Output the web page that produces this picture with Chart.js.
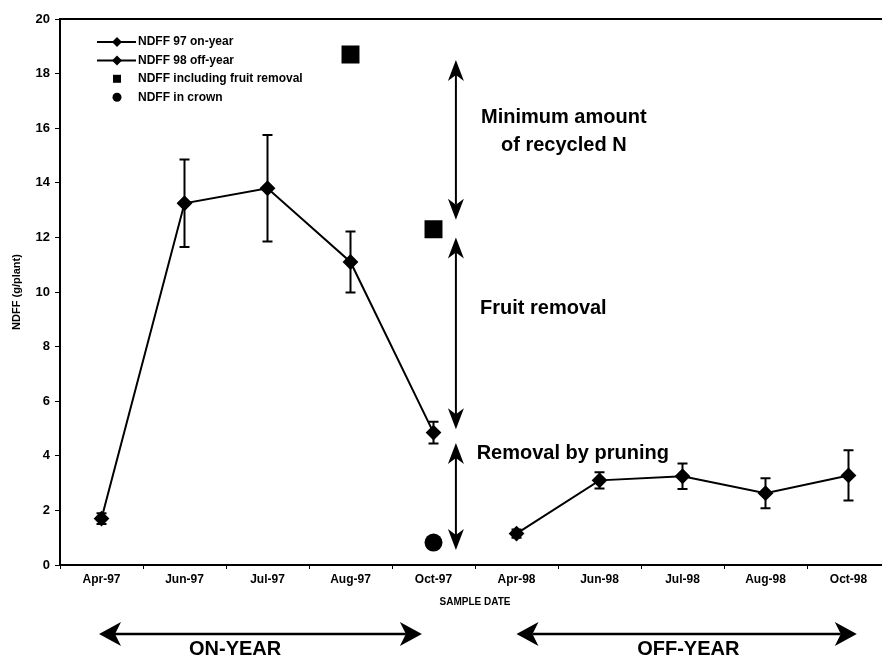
<!DOCTYPE html>
<html>
<head>
<meta charset="utf-8">
<script src="https://cdn.jsdelivr.net/npm/chart.js@4.4.1/dist/chart.umd.min.js"></script>
<style>
  html, body { margin: 0; padding: 0; background: #fff; overflow: hidden; width: 882px; height: 660px; }
  #wrap { width: 882px; height: 660px; overflow: hidden; position: relative; }
  #c { position: absolute; left: 0; top: 0; }
</style>
</head>
<body>
<div id="wrap"><canvas id="c" width="892" height="660"></canvas></div>
<script>
// Sample dates (x categories)
const categories = ['Apr-97', 'Jun-97', 'Jul-97', 'Aug-97', 'Oct-97', 'Apr-98', 'Jun-98', 'Jul-98', 'Aug-98', 'Oct-98'];

// NDFF (g/plant) per sampling date, with standard errors
const onYear97    = [1.7, 13.25, 13.8, 11.1, 4.85, null, null, null, null, null];
const onYear97Err = [0.2, 1.6, 1.95, 1.12, 0.4, null, null, null, null, null];
const offYear98    = [null, null, null, null, null, 1.15, 3.1, 3.25, 2.63, 3.28];
const offYear98Err = [null, null, null, null, null, 0.15, 0.3, 0.47, 0.55, 0.92];
const withFruitRemoval = [null, null, null, 18.7, 12.3, null, null, null, null, null];
const inCrown          = [null, null, null, null, 0.82, null, null, null, null, null];

// Segments of the N balance at Oct-97 (from, to) in g/plant
const balanceSegments = [[18.5, 12.65], [12.0, 4.97], [4.47, 0.55]];
const balanceLabels = ['Minimum amount', 'of recycled N', 'Fruit removal', 'Removal by pruning'];
const periodLabels = ['ON-YEAR', 'OFF-YEAR'];

const FONT = '"Liberation Sans", Arial, Helvetica, sans-serif';

function arrowHead(ctx, tx, ty, dx, dy, len, half, notch) {
  const bx = tx - dx * len, by = ty - dy * len;
  const px = -dy, py = dx;
  ctx.beginPath();
  ctx.moveTo(tx, ty);
  ctx.lineTo(bx + px * half, by + py * half);
  ctx.lineTo(bx + dx * notch, by + dy * notch);
  ctx.lineTo(bx - px * half, by - py * half);
  ctx.closePath();
  ctx.fill();
}

function doubleArrow(ctx, x1, y1, x2, y2, len, half, notch, lw) {
  const L = Math.hypot(x2 - x1, y2 - y1);
  const dx = (x2 - x1) / L, dy = (y2 - y1) / L;
  ctx.lineWidth = lw;
  ctx.beginPath();
  ctx.moveTo(x1 + dx * (len - notch), y1 + dy * (len - notch));
  ctx.lineTo(x2 - dx * (len - notch), y2 - dy * (len - notch));
  ctx.stroke();
  arrowHead(ctx, x2, y2, dx, dy, len, half, notch);
  arrowHead(ctx, x1, y1, -dx, -dy, len, half, notch);
}

// Vertical error bars with caps
const errorBars = {
  id: 'errorBars',
  beforeDatasetsDraw(chart) {
    const { ctx, scales: { y } } = chart;
    ctx.save();
    ctx.strokeStyle = '#000';
    ctx.lineWidth = 2;
    chart.data.datasets.forEach((ds, di) => {
      if (!ds.errors) return;
      const meta = chart.getDatasetMeta(di);
      ds.data.forEach((v, i) => {
        const e = ds.errors[i];
        if (v == null || e == null) return;
        const px = meta.data[i].x;
        const top = y.getPixelForValue(v + e);
        const bot = y.getPixelForValue(v - e);
        ctx.beginPath();
        ctx.moveTo(px, top); ctx.lineTo(px, bot);
        ctx.moveTo(px - 5, top); ctx.lineTo(px + 5, top);
        ctx.moveTo(px - 5, bot); ctx.lineTo(px + 5, bot);
        ctx.stroke();
      });
    });
    ctx.restore();
  }
};

// Frame top, balance arrows, period arrows, legend
const notes = {
  id: 'notes',
  afterDraw(chart, args, opts) {
    const { ctx, chartArea, scales: { x, y } } = chart;
    ctx.save();
    ctx.strokeStyle = '#000';
    ctx.fillStyle = '#000';

    // top frame line
    ctx.lineWidth = 2;
    ctx.beginPath();
    ctx.moveTo(chartArea.left, chartArea.top);
    ctx.lineTo(chartArea.right, chartArea.top);
    ctx.stroke();

    // balance arrows at Oct-97
    const ax = x.getPixelForValue(opts.balanceX);
    balanceSegments.forEach(([a, b]) => {
      doubleArrow(ctx, ax, y.getPixelForValue(a), ax, y.getPixelForValue(b), 21, 8, 6, 2);
    });

    ctx.font = 'bold 20px ' + FONT;
    ctx.textBaseline = 'middle';
    ctx.textAlign = 'center';
    ctx.fillText(balanceLabels[0], x.getPixelForValue(5.57), y.getPixelForValue(16.4));
    ctx.fillText(balanceLabels[1], x.getPixelForValue(5.57), y.getPixelForValue(15.38));
    ctx.textAlign = 'left';
    ctx.fillText(balanceLabels[2], x.getPixelForValue(4.56), y.getPixelForValue(9.38));
    ctx.fillText(balanceLabels[3], x.getPixelForValue(4.52), y.getPixelForValue(4.1));

    // ON-YEAR / OFF-YEAR period arrows under the axis
    const py = 634;
    opts.periods.forEach((p, i) => {
      doubleArrow(ctx, x.getPixelForValue(p[0]), py, x.getPixelForValue(p[1]), py, 22, 12, 6, 2.5);
      ctx.font = 'bold 20px ' + FONT;
      ctx.textAlign = 'center';
      ctx.textBaseline = 'middle';
      ctx.fillText(periodLabels[i], x.getPixelForValue(p[2]), 649);
    });

    // legend
    ctx.font = 'bold 12px ' + FONT;
    ctx.textAlign = 'left';
    ctx.textBaseline = 'middle';
    const lx0 = 97, lx1 = 136, mx = 117;
    chart.data.datasets.forEach((ds, i) => {
      const ly = 42 + i * 18.4;
      ctx.lineWidth = 2;
      if (ds.showLine !== false) {
        ctx.beginPath();
        ctx.moveTo(lx0, ly); ctx.lineTo(lx1, ly);
        ctx.stroke();
      }
      ctx.beginPath();
      if (ds.pointStyle === 'rectRot') {
        ctx.moveTo(mx, ly - 5); ctx.lineTo(mx + 5, ly); ctx.lineTo(mx, ly + 5); ctx.lineTo(mx - 5, ly);
        ctx.closePath();
      } else if (ds.pointStyle === 'rect') {
        ctx.rect(mx - 4, ly - 4, 8, 8);
      } else {
        ctx.arc(mx, ly, 4.5, 0, Math.PI * 2);
      }
      ctx.fill();
      ctx.fillText(ds.label, 138, ly);
    });
    ctx.restore();
  }
};

const black = '#000';
new Chart(document.getElementById('c'), {
  type: 'line',
  data: {
    labels: categories,
    datasets: [
      { label: 'NDFF 97 on-year', data: onYear97, errors: onYear97Err,
        borderColor: black, backgroundColor: black, borderWidth: 2,
        pointStyle: 'rectRot', pointRadius: 6.5, spanGaps: false },
      { label: 'NDFF 98 off-year', data: offYear98, errors: offYear98Err,
        borderColor: black, backgroundColor: black, borderWidth: 2,
        pointStyle: 'rectRot', pointRadius: 6.5, spanGaps: false },
      { label: 'NDFF including fruit removal', data: withFruitRemoval, showLine: false,
        borderColor: black, backgroundColor: black, borderWidth: 0,
        pointStyle: 'rect', pointRadius: 12.7 },
      { label: 'NDFF in crown', data: inCrown, showLine: false,
        borderColor: black, backgroundColor: black, borderWidth: 0,
        pointStyle: 'circle', pointRadius: 9 }
    ]
  },
  options: {
    responsive: false,
    animation: false,
    devicePixelRatio: 1,
    // the plot frame runs past the visible right edge
    layout: { autoPadding: false, padding: { top: 19, right: 2, left: 0, bottom: 0 } },
    plugins: {
      legend: { display: false },
      tooltip: { enabled: false },
      notes: { balanceX: 4.27, periods: [[-0.03, 3.86, 1.61], [5.0, 9.1, 7.07]] }
    },
    scales: {
      x: {
        type: 'category',
        offset: true,
        afterFit(s) { s.height = 95; },
        grid: { offset: true, drawOnChartArea: false, tickLength: 4, color: black, lineWidth: 1 },
        border: { color: black, width: 2 },
        ticks: { color: black, font: { family: FONT, size: 12, weight: 'bold' }, padding: 3, maxRotation: 0, autoSkip: false },
        title: { display: true, text: 'SAMPLE DATE', color: black,
                 font: { family: FONT, size: 10, weight: 'bold' }, padding: { top: 4, bottom: 52 } }
      },
      y: {
        min: 0, max: 20,
        afterFit(s) { s.width = 60; },
        grid: { drawOnChartArea: false, tickLength: 5, color: black, lineWidth: 1 },
        border: { color: black, width: 2 },
        ticks: { stepSize: 2, color: black, font: { family: FONT, size: 13, weight: 'bold' }, padding: 5 },
        title: { display: true, text: 'NDFF (g/plant)', color: black,
                 font: { family: FONT, size: 11, weight: 'bold' }, padding: { top: 10, bottom: 0 } }
      }
    }
  },
  plugins: [errorBars, notes]
});
</script>
</body>
</html>
